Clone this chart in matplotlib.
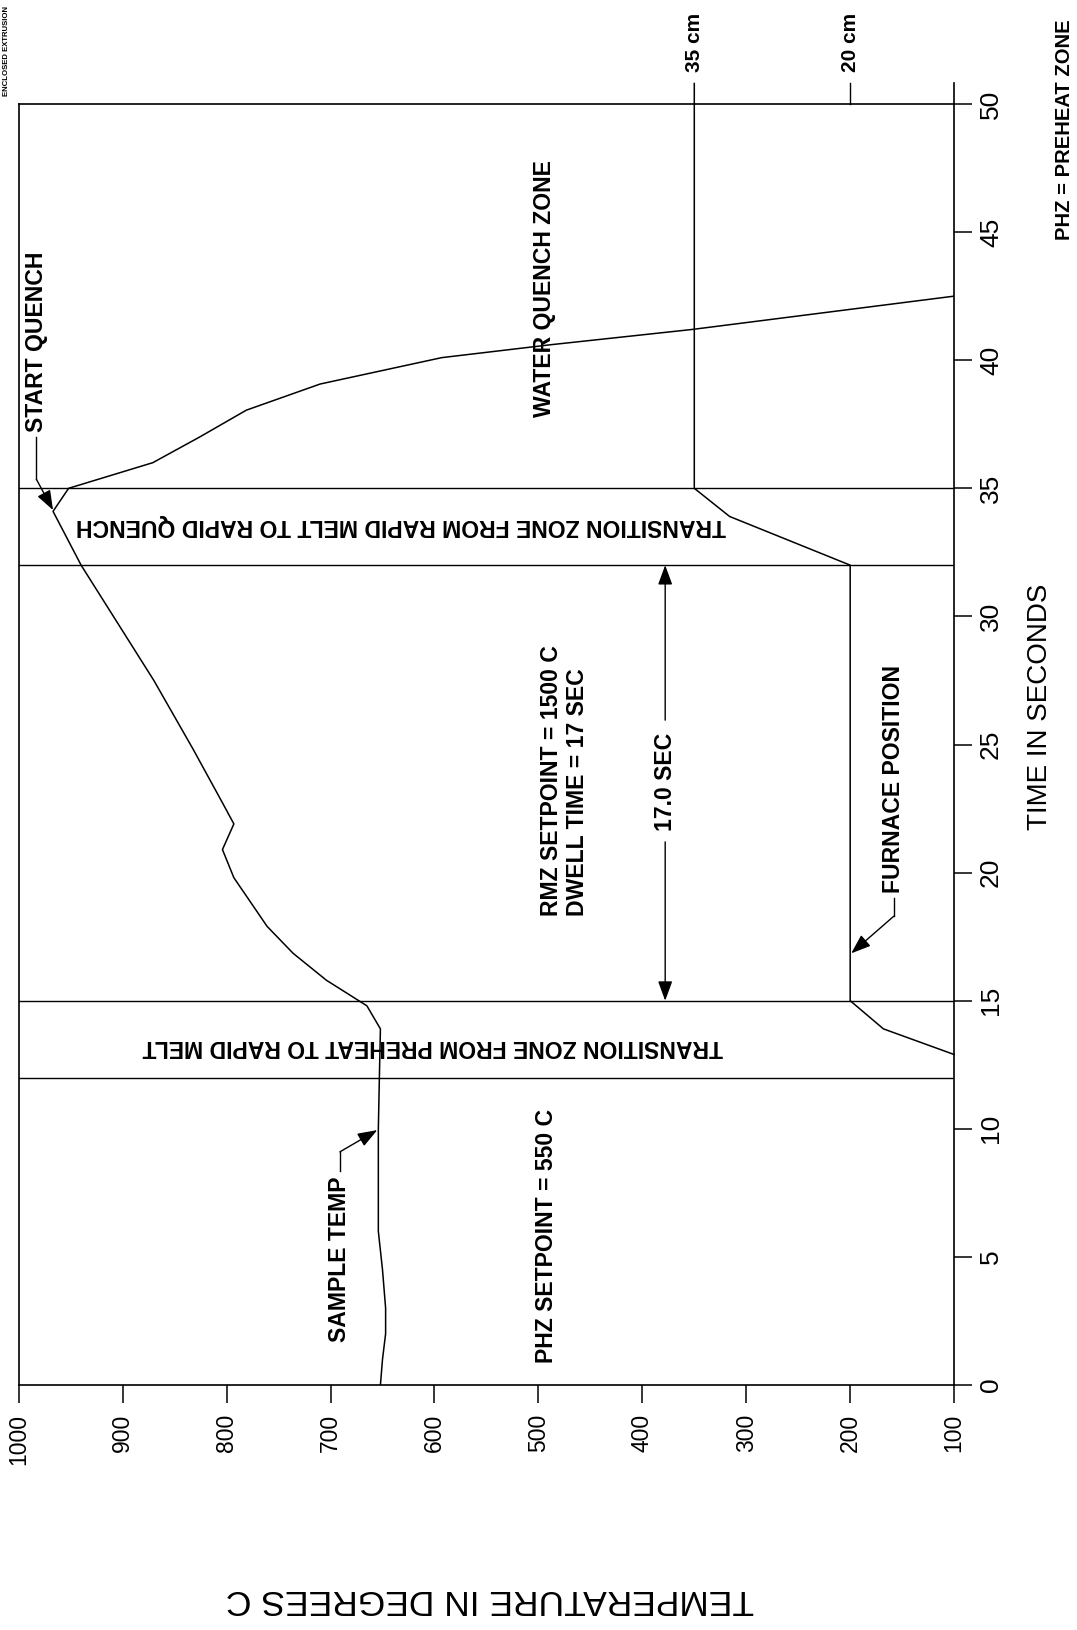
import matplotlib.pyplot as plt
import matplotlib as mpl

mpl.rcParams["font.family"] = "Liberation Sans"

# sample thermocouple trace: time (s) vs temperature (C)
sample_time = [0, 1.0, 2.0, 3.0, 4.5, 6.0, 8.0, 10.0, 12.0, 13.9, 14.8, 15.8, 16.85,
               17.9, 19.8, 20.9, 21.9, 22.8, 24.8, 27.5, 32.0, 34.1, 35.0, 36.0,
               37.0, 38.05, 39.07, 40.1, 40.6, 41.2, 42.5]
sample_temp = [652, 650, 647, 647, 650, 654, 654, 654, 653, 652, 665, 704, 736,
               761, 793, 804, 793, 805, 832, 870, 940, 967, 952, 871,
               826, 781, 710, 593, 489, 352, 100]

# furnace position trace, drawn against the same scale
furnace_time = [12.9, 13.9, 15.0, 32.0, 33.9, 35.0, 50.8]
furnace_temp = [100, 168, 200, 200, 316, 350, 350]
furnace_marks = [350, 200]
furnace_mark_labels = ["35 cm", "20 cm"]

# zone boundaries (s)
zone_edges = [12, 15, 32, 35]
dwell = 17.0

temp_ticks = [1000, 900, 800, 700, 600, 500, 400, 300, 200, 100]
time_ticks = [0, 5, 10, 15, 20, 25, 30, 35, 40, 45, 50]

bold = dict(fontsize=16.6, fontweight="bold", rotation_mode="anchor")

fig = plt.figure(figsize=(10.77, 16.30), dpi=100)
ax = fig.add_axes([0.0174, 0.1503, 0.8685, 0.7859])
ax.set_xlim(1000, 100)
ax.set_ylim(0, 50)
for s in ax.spines.values():
    s.set_linewidth(1.2)

ax.yaxis.tick_right()
ax.set_xticks(temp_ticks)
ax.set_xticklabels([str(t) for t in temp_ticks], rotation=90, fontsize=16.5)
ax.set_yticks(time_ticks)
ax.set_yticklabels([str(t) for t in time_ticks], rotation=90, fontsize=19)
for lbl in ax.get_yticklabels():
    lbl.set_va("center")
ax.tick_params(axis="x", direction="out", length=13, width=1.1, pad=8)
ax.tick_params(axis="y", direction="out", length=13, width=1.1, pad=5)

# zone lines
for e in zone_edges:
    ax.axhline(e, color="black", lw=1.0)

ax.plot(sample_temp, sample_time, color="black", lw=1.1)
ax.plot(furnace_temp, furnace_time, color="black", lw=1.1, clip_on=False)

# marks above the top edge
ax.plot([100, 100], [50, 50.8], color="black", lw=1.2, clip_on=False)
ax.plot([200, 200], [50, 50.8], color="black", lw=1.0, clip_on=False)
for T, lab in zip(furnace_marks, furnace_mark_labels):
    ax.text(T, 51.25, lab, rotation=90, ha="left", va="center",
            fontsize=15, fontweight="bold", rotation_mode="anchor")


def pointer(x0, y0, x1, y1):
    ax.annotate("", xy=(x1, y1), xytext=(x0, y0),
                arrowprops=dict(arrowstyle="-|>,head_length=0.6,head_width=0.22",
                                color="black", lw=1.0, shrinkA=0, shrinkB=0,
                                mutation_scale=20))


# zone text
ax.text(494, 42.8, "WATER QUENCH ZONE", rotation=90, ha="center", va="center", **bold)
ax.text(632, 33.55, "TRANSITION ZONE FROM RAPID MELT TO RAPID QUENCH",
        rotation=180, ha="center", va="center", **bold)
ax.text(602, 13.2, "TRANSITION ZONE FROM PREHEAT TO RAPID MELT",
        rotation=180, ha="center", va="center", **bold)
ax.text(475, 18.3, "RMZ SETPOINT = 1500 C\nDWELL TIME = %d SEC" % dwell,
        rotation=90, ha="left", va="center", multialignment="left", **bold)
ax.text(492, 0.85, "PHZ SETPOINT = 550 C", rotation=90, ha="left", va="center", **bold)

# dwell arrow
ax.text(378, 23.55, "%.1f SEC" % dwell, rotation=90, ha="center", va="center", **bold)
pointer(378, 25.95, 378, zone_edges[2])
pointer(378, 21.2, 378, zone_edges[2] - dwell)

# callouts
ax.text(158, 19.2, "FURNACE POSITION", rotation=90, ha="left", va="center", **bold)
ax.plot([158, 158], [19.0, 18.3], color="black", lw=1.0)
pointer(158, 18.3, 199, 16.85)

ax.text(691, 8.15, "SAMPLE TEMP", rotation=90, ha="right", va="center", **bold)
ax.plot([691, 691], [8.35, 9.1], color="black", lw=1.0)
pointer(691, 9.1, 655, 9.95)

ax.text(983, 37.2, "START QUENCH", rotation=90, ha="left", va="center", **bold)
ax.plot([983, 983], [37.0, 35.35], color="black", lw=1.0)
pointer(983, 35.35, 967, 34.15)

# axis titles and side notes
fig.text(1040 / 1077, 1 - 707 / 1630, "TIME IN SECONDS", rotation=90,
         fontsize=20, ha="center", va="center")
fig.text(490 / 1077, 1 - 1600 / 1630, "TEMPERATURE IN DEGREES C", rotation=180,
         fontsize=25.5, ha="center", va="center")
fig.text(6 / 1077, 1 - 96 / 1630, "ENCLOSED EXTRUSION", rotation=90,
         ha="left", va="center", fontsize=5.6, fontweight="bold", rotation_mode="anchor")
fig.text(1065 / 1077, 1 - 240 / 1630, "PHZ = PREHEAT ZONE", rotation=90,
         ha="left", va="center", fontsize=14.5, fontweight="bold", rotation_mode="anchor")

fig.savefig("out.png", dpi=100)
